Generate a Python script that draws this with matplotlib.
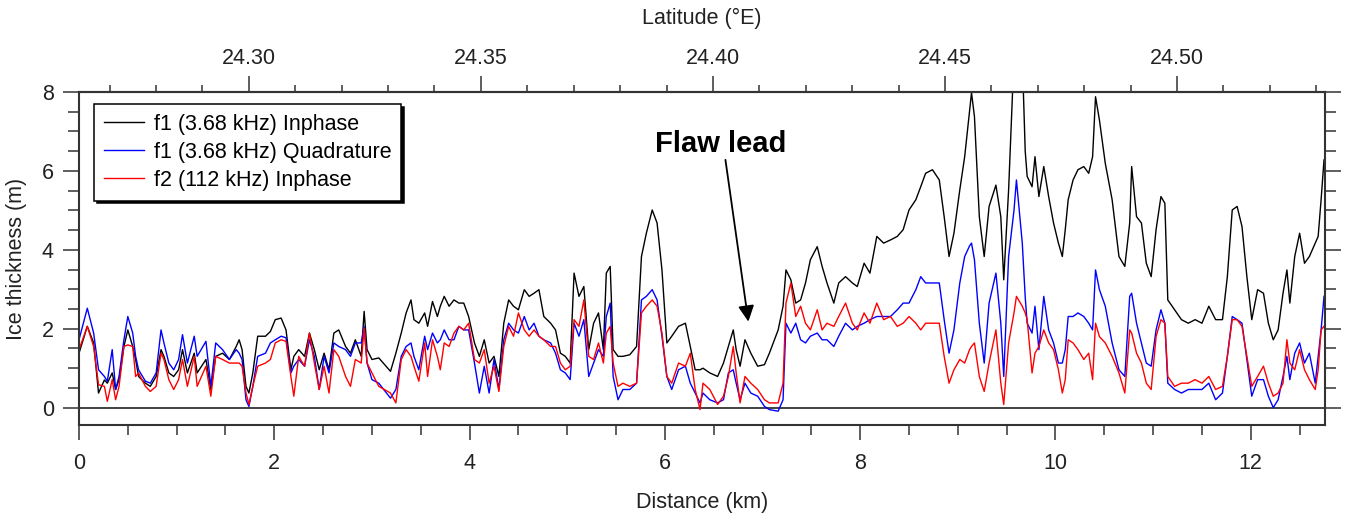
import numpy as np
import matplotlib
matplotlib.use("Agg")
import matplotlib.pyplot as plt
from matplotlib.ticker import MultipleLocator, FixedLocator, FormatStrFormatter

plt.rcParams['font.family'] = ['Liberation Sans', 'DejaVu Sans']

# distance along the profile (km) and the three thickness series (m)
dist_km = [
    0.0, 0.085, 0.15, 0.2, 0.26, 0.29, 0.34, 0.375, 0.41, 0.46, 0.5, 0.55, 0.58, 0.61, 0.68, 0.73,
    0.79, 0.84, 0.87, 0.92, 0.97, 1.02, 1.06, 1.11, 1.18, 1.21, 1.30, 1.35, 1.40, 1.47, 1.54, 1.61,
    1.64, 1.67, 1.71, 1.74, 1.78, 1.83, 1.91, 1.96, 2.01, 2.07, 2.12, 2.17, 2.20, 2.25, 2.31, 2.36,
    2.41, 2.46, 2.51, 2.56, 2.61, 2.66, 2.73, 2.78, 2.83, 2.89, 2.92, 2.95, 3.0, 3.07,
    3.19, 3.245, 3.30, 3.35, 3.40, 3.43, 3.48, 3.54, 3.57, 3.62, 3.67, 3.70, 3.74, 3.79, 3.84, 3.89,
    3.94, 3.99, 4.05, 4.10, 4.15, 4.20, 4.25, 4.30, 4.35, 4.40, 4.45, 4.50, 4.56, 4.61, 4.66, 4.71,
    4.76, 4.83, 4.88, 4.93, 4.98, 5.03, 5.07, 5.12, 5.17, 5.22, 5.27, 5.32, 5.37, 5.40, 5.44, 5.47,
    5.52, 5.57, 5.64, 5.71, 5.76, 5.81, 5.87, 5.92, 5.97, 6.02, 6.07, 6.14, 6.21, 6.26, 6.31,
    6.36, 6.39, 6.46, 6.54, 6.60, 6.65, 6.70, 6.73, 6.77, 6.82, 6.88, 6.95, 7.02, 7.07, 7.16, 7.21,
    7.24, 7.29, 7.34, 7.39, 7.44, 7.49, 7.56, 7.61, 7.66, 7.73, 7.78, 7.85, 7.92, 7.97, 8.04, 8.10,
    8.17, 8.24, 8.31, 8.38, 8.44, 8.50, 8.57, 8.62, 8.67, 8.74, 8.81, 8.86, 8.91, 8.96, 9.02, 9.07,
    9.12, 9.14, 9.17, 9.22, 9.27, 9.32, 9.39, 9.44, 9.47, 9.52, 9.575,
    9.60, 9.66, 9.69, 9.71, 9.76, 9.79, 9.83, 9.88, 9.93, 9.98, 10.03, 10.07, 10.10, 10.13, 10.18,
    10.23, 10.29, 10.34, 10.38, 10.41, 10.45, 10.51, 10.58, 10.65, 10.71, 10.76, 10.78, 10.83, 10.88,
    10.93, 10.98, 11.03, 11.08, 11.12, 11.15, 11.22, 11.29, 11.36, 11.43, 11.50, 11.57, 11.64, 11.71,
    11.76, 11.81, 11.86, 11.91, 11.96, 12.01, 12.07, 12.13, 12.18, 12.23, 12.28, 12.33, 12.37, 12.40,
    12.45, 12.50, 12.55, 12.60, 12.66, 12.69, 12.72, 12.75,
]

f1_inphase = [
    1.38, 2.06, 1.64, 0.37, 0.70, 0.62, 0.88, 0.46, 0.71, 1.55, 1.97, 1.55, 1.22, 0.79, 0.62, 0.54,
    0.79, 1.47, 1.30, 0.88, 0.79, 0.96, 1.47, 0.88, 1.38, 0.88, 1.22, 0.46, 1.30, 1.38, 1.22, 1.55,
    1.72, 1.47, 0.54, 0.37, 0.88, 1.81, 1.81, 1.93, 2.23, 2.27, 1.97, 0.96, 1.30, 1.47, 1.30, 1.89,
    1.47, 0.96, 1.38, 0.96, 1.89, 1.97, 1.55, 1.38, 1.72, 1.30, 2.44, 1.47, 1.22, 1.26,
    0.92, 1.38, 1.89, 2.40, 2.73, 2.23, 2.14, 2.40, 2.06, 2.69, 2.31, 2.57, 2.82, 2.57, 2.73, 2.65,
    2.65, 2.31, 1.64, 1.30, 1.72, 1.13, 1.30, 0.79, 2.14, 2.73, 2.57, 2.48, 2.99, 2.82, 2.90, 2.99,
    2.31, 2.14, 1.97, 1.38, 1.30, 1.13, 3.41, 2.82, 3.07, 1.47, 2.14, 2.40, 1.47, 3.41, 3.58, 1.47,
    1.30, 1.30, 1.34, 1.55, 3.83, 4.42, 5.01, 4.68, 3.49, 1.64, 1.81, 2.06, 2.14, 1.55, 0.96,
    0.96, 1.00, 0.88, 0.79, 1.13, 1.55, 1.97, 1.47, 1.05, 1.72, 1.38, 1.05, 1.09, 1.38, 1.97, 2.57,
    3.49, 3.24, 2.65, 2.73, 3.16, 3.75, 4.08, 3.58, 3.16, 2.65, 3.16, 3.32, 3.16, 3.07, 3.66, 3.41,
    4.34, 4.17, 4.25, 4.34, 4.51, 5.01, 5.27, 5.60, 5.94, 6.03, 5.77, 4.84, 3.83, 4.42, 5.52, 6.36,
    7.50, 7.98, 7.38, 4.84, 3.83, 5.10, 5.64, 4.84, 3.24, 5.52, 8.90,
    8.90, 8.90, 6.50, 5.86, 5.60, 6.36, 5.35, 6.11, 5.35, 4.68, 4.17, 3.83, 4.51, 5.27, 5.77,
    6.03, 6.11, 5.94, 6.36, 7.88, 7.29, 6.19, 5.27, 3.83, 3.58, 4.68, 6.11, 4.84, 4.68,
    3.66, 3.32, 4.51, 5.35, 5.18, 2.73, 2.48, 2.23, 2.14, 2.23, 2.14, 2.57, 2.23, 2.23,
    3.32, 5.01, 5.10, 4.59, 3.32, 2.23, 2.99, 2.90, 2.14, 1.72, 1.97, 2.90, 3.49, 2.65,
    3.83, 4.42, 3.66, 3.83, 4.17, 4.34, 5.27, 6.28,
]

f1_quadrature = [
    1.72, 2.52, 1.89, 0.96, 0.79, 0.67, 1.47, 0.46, 0.79, 1.72, 2.31, 1.89, 1.30, 0.96, 0.67, 0.62,
    0.88, 1.97, 1.64, 1.13, 0.96, 1.22, 1.85, 1.13, 1.81, 1.30, 1.68, 0.54, 1.64, 1.47, 1.22, 1.47,
    1.38, 1.22, 0.20, 0.03, 0.54, 1.30, 1.38, 1.64, 1.72, 1.81, 1.77, 0.88, 1.05, 1.22, 1.05, 1.72,
    1.30, 0.46, 1.30, 0.88, 1.64, 1.55, 1.47, 1.30, 1.64, 1.64, 2.06, 1.13, 0.71, 0.62,
    0.24, 0.46, 1.30, 1.55, 1.64, 1.30, 0.96, 1.81, 1.47, 1.89, 1.64, 1.72, 1.97, 1.72, 1.72, 2.06,
    1.97, 1.97, 1.13, 0.37, 1.05, 0.37, 1.22, 0.46, 1.72, 2.14, 1.97, 1.89, 2.31, 1.97, 2.14, 1.81,
    1.72, 1.64, 1.38, 0.96, 0.88, 0.71, 2.14, 1.81, 2.23, 0.79, 1.13, 1.47, 1.30, 2.31, 2.65, 0.79,
    0.20, 0.46, 0.46, 0.62, 2.73, 2.82, 2.99, 2.73, 1.81, 0.79, 0.46, 0.96, 1.05, 0.62, 0.37,
    0.12, 0.37, 0.20, 0.12, 0.20, 0.88, 0.96, 0.62, 0.20, 0.62, 0.37, 0.29, 0.03, -0.05, -0.09, 0.20,
    2.14, 1.89, 2.14, 1.72, 1.64, 1.81, 1.89, 1.72, 1.72, 1.55, 1.81, 2.14, 1.97, 2.06, 2.14, 2.23,
    2.31, 2.31, 2.31, 2.48, 2.65, 2.65, 2.99, 3.32, 3.16, 3.16, 3.16, 2.23, 1.38, 1.97, 3.16, 3.83,
    4.10, 4.17, 3.75, 2.14, 1.13, 2.65, 3.41, 2.14, 0.79, 3.83, 5.00,
    5.77, 4.17, 2.80, 2.14, 1.89, 2.57, 1.47, 2.82, 1.97, 1.64, 1.13, 1.13, 1.47, 2.31, 2.31,
    2.40, 2.31, 2.14, 1.97, 3.49, 2.99, 2.57, 1.64, 0.96, 0.79, 2.82, 2.90, 2.14, 1.64,
    1.13, 1.05, 1.97, 2.48, 2.14, 0.62, 0.46, 0.37, 0.46, 0.46, 0.46, 0.62, 0.20, 0.37,
    1.30, 2.31, 2.23, 2.14, 1.21, 0.29, 0.71, 0.71, 0.29, 0.00, 0.20, 0.79, 1.30, 0.71,
    1.38, 1.64, 1.13, 1.38, 0.62, 1.30, 1.97, 2.82,
]

f2_inphase = [
    1.47, 2.06, 1.55, 0.58, 0.54, 0.16, 0.71, 0.20, 0.54, 1.55, 1.59, 1.55, 0.79, 0.88, 0.54, 0.41,
    0.54, 1.38, 1.22, 0.71, 0.46, 0.71, 1.22, 0.54, 1.30, 0.54, 1.05, 0.29, 1.30, 1.22, 1.13, 1.13,
    1.13, 1.05, 0.37, 0.08, 0.54, 1.05, 1.13, 1.22, 1.64, 1.72, 1.68, 0.79, 0.29, 1.30, 1.05, 1.89,
    1.13, 0.46, 1.05, 0.37, 1.47, 1.30, 0.79, 0.54, 1.22, 1.13, 2.02, 1.13, 0.88, 0.54,
    0.37, 0.12, 1.22, 1.47, 1.30, 1.05, 0.67, 1.64, 0.79, 1.72, 1.30, 0.96, 1.64, 1.55, 1.89, 2.06,
    1.97, 2.14, 1.22, 1.13, 1.47, 0.62, 1.05, 0.41, 1.55, 2.06, 1.81, 2.40, 1.97, 1.81, 1.97, 1.81,
    1.72, 1.55, 1.55, 1.13, 0.96, 1.05, 2.23, 2.06, 2.73, 1.30, 1.22, 1.64, 1.13, 1.89, 2.06, 1.13,
    0.54, 0.62, 0.54, 0.62, 2.40, 2.57, 2.73, 2.57, 1.89, 0.79, 0.62, 1.13, 1.05, 1.38, 0.46,
    -0.05, 0.62, 0.46, 0.08, 0.29, 0.79, 1.55, 0.88, 0.12, 0.79, 0.62, 0.46, 0.20, 0.12, 0.12, 0.62,
    2.65, 3.16, 2.31, 2.57, 2.14, 1.97, 2.48, 1.97, 2.14, 2.06, 2.31, 2.65, 2.14, 1.97, 2.40, 2.14,
    2.65, 2.23, 2.31, 2.06, 2.14, 2.31, 2.14, 1.97, 2.14, 2.14, 2.14, 1.30, 0.62, 0.96, 1.22, 1.13,
    1.47, 1.55, 1.64, 0.79, 0.41, 1.13, 1.97, 0.62, 0.08, 1.64, 2.40,
    2.82, 2.57, 2.40, 2.23, 0.88, 1.38, 1.55, 1.97, 1.64, 1.47, 0.96, 0.37, 0.71, 1.72, 1.64,
    1.47, 1.22, 1.38, 0.71, 2.14, 1.80, 1.64, 1.30, 0.88, 0.37, 1.97, 1.89, 1.38, 1.13,
    0.62, 0.46, 1.80, 2.23, 2.14, 0.79, 0.54, 0.62, 0.62, 0.71, 0.62, 0.79, 0.46, 0.54,
    1.30, 2.23, 2.23, 2.06, 1.30, 0.54, 0.79, 1.05, 0.62, 0.29, 0.37, 0.62, 1.72, 1.13,
    0.96, 1.47, 0.96, 0.71, 0.46, 0.96, 1.97, 2.06,
]

series_labels = ['f1 (3.68 kHz) Inphase', 'f1 (3.68 kHz) Quadrature', 'f2 (112 kHz) Inphase']
series_colors = ['#000000', '#0000ff', '#ff0000']

# top axis: latitude ticks, and the track latitude at 0 km plus degrees per km
lat_major = [24.30, 24.35, 24.40, 24.45, 24.50]
lat_minor = [24.27, 24.28, 24.29, 24.31, 24.32, 24.33, 24.34, 24.36, 24.37, 24.38, 24.39,
             24.41, 24.42, 24.43, 24.44, 24.46, 24.47, 24.48, 24.49, 24.51, 24.52, 24.53]
lat_at_zero = 24.2634
lat_per_km = 0.021042

x_max = 12.76
y_min, y_max = -0.44, 8.0

fs = 15.5
ink = '#222222'

fig = plt.figure(figsize=(13.46, 5.13), dpi=100)
ax = fig.add_axes([79 / 1346, 88 / 513, 1246 / 1346, 333 / 513])

ax.axhline(0, color='#333333', lw=1.3, zorder=1)
for vals, lab, col in zip([f1_inphase, f1_quadrature, f2_inphase], series_labels, series_colors):
    ax.plot(dist_km, vals, color=col, lw=1.0, label=lab, zorder=2)

ax.set_xlim(0, x_max)
ax.set_ylim(y_min, y_max)

ax.xaxis.set_major_locator(MultipleLocator(2))
ax.xaxis.set_minor_locator(MultipleLocator(0.5))
ax.yaxis.set_major_locator(MultipleLocator(2))
ax.yaxis.set_minor_locator(MultipleLocator(0.5))

for side in ['left', 'right', 'bottom', 'top']:
    ax.spines[side].set_color('#333333')
    ax.spines[side].set_linewidth(1.5)

ax.tick_params(axis='both', which='both', direction='out', color='#333333', width=1.1,
               labelsize=fs, labelcolor=ink)
ax.tick_params(axis='x', which='major', length=11, pad=9, top=False)
ax.tick_params(axis='x', which='minor', length=7.5, top=False)
ax.tick_params(axis='y', which='major', length=11.5, pad=6.5, right=True)
ax.tick_params(axis='y', which='minor', length=8, right=True)

ax.set_xlabel('Distance (km)', fontsize=fs, color=ink)
ax.xaxis.set_label_coords(0.5, -0.2)
ax.set_ylabel('Ice thickness (m)', fontsize=fs, color=ink)
ax.yaxis.set_label_coords(-0.0417, 0.5)

sec = ax.secondary_xaxis('top', functions=(lambda k: lat_at_zero + k * lat_per_km,
                                            lambda l: (l - lat_at_zero) / lat_per_km))
sec.xaxis.set_major_locator(FixedLocator(lat_major))
sec.xaxis.set_minor_locator(FixedLocator(lat_minor))
sec.xaxis.set_major_formatter(FormatStrFormatter('%.2f'))
sec.spines['top'].set_color('#333333')
sec.spines['top'].set_linewidth(1.5)
sec.tick_params(axis='x', which='both', direction='out', color='#333333', width=1.1,
                labelsize=fs, labelcolor=ink)
sec.tick_params(axis='x', which='major', length=11.5, pad=5)
sec.tick_params(axis='x', which='minor', length=5)
sec.set_xlabel('Latitude (°E)', fontsize=fs, color=ink, labelpad=17)

leg = ax.legend(loc='upper left', bbox_to_anchor=(0.012, 0.964), borderaxespad=0,
                fontsize=fs, frameon=True, fancybox=False, edgecolor='black',
                shadow={'color': 'black', 'alpha': 1.0}, handlelength=1.86,
                handletextpad=0.47, labelspacing=0.33, borderpad=0.45)
leg.get_frame().set_linewidth(1.1)
leg.get_frame().set_alpha(1.0)
for t in leg.get_texts():
    t.set_color('black')

ax.text(6.57, 6.48, 'Flaw lead', fontsize=21, fontweight='bold', ha='center', va='baseline',
        color='black', zorder=5)
ax.annotate('', xy=(6.855, 2.18), xytext=(6.62, 6.28),
            arrowprops=dict(arrowstyle='-|>,head_length=0.6,head_width=0.3', mutation_scale=16,
                            color='black', lw=1.3, shrinkA=0, shrinkB=0), zorder=5)

fig.savefig('out.png', dpi=100)
